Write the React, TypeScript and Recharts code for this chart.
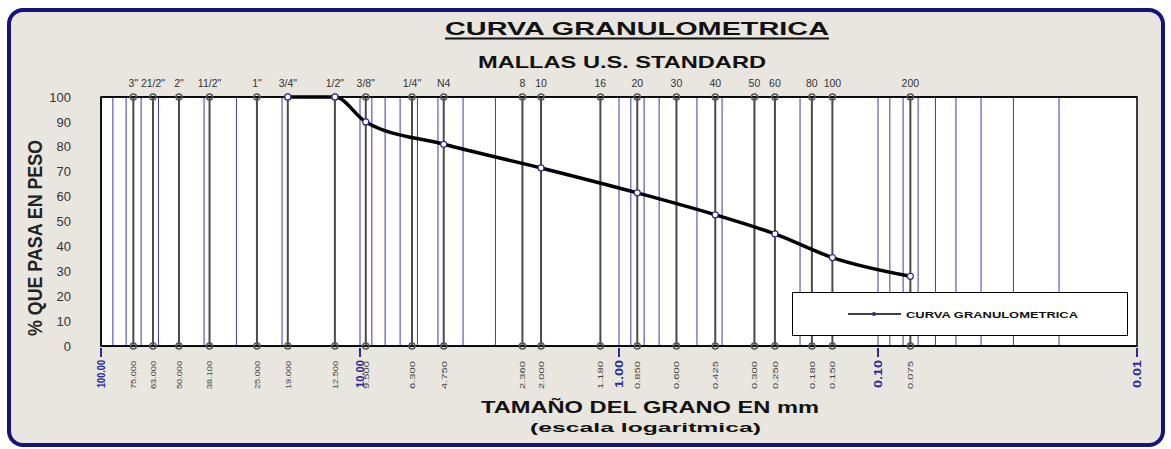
import { ComposedChart, Line, Scatter, XAxis, YAxis, CartesianGrid, ReferenceLine, ReferenceArea } from 'recharts';

// tamices (mm) y su denominacion ASTM
const sieveSizes = [75, 63, 50, 38.1, 25, 19, 12.5, 9.5, 6.3, 4.75, 2.36, 2.0, 1.18, 0.85, 0.6, 0.425, 0.3, 0.25, 0.18, 0.15, 0.075];
const sieveNames = ['3"', '21/2"', '2"', '11/2"', '1"', '3/4"', '1/2"', '3/8"', '1/4"', 'N4', '8', '10', '16', '20', '30', '40', '50', '60', '80', '100', '200'];
const sieveLabels = ['75.000', '63.000', '50.000', '38.100', '25.000', '19.000', '12.500', '9.500', '6.300', '4.750', '2.360', '2.000', '1.180', '0.850', '0.600', '0.425', '0.300', '0.250', '0.180', '0.150', '0.075'];

// curva granulometrica: abertura (mm) y % que pasa
const curveSizes = [19, 12.5, 9.5, 4.75, 2.0, 0.85, 0.425, 0.25, 0.15, 0.075];
const curvePassing = [100, 100, 90, 81, 71.5, 61.5, 52.7, 45, 35.5, 28];

const decades = [100, 10, 1, 0.1, 0.01];
const decadeLabels = ['100.00', '10.00', '1.00', '0.10', '0.01'];
const minorGrid = [90, 80, 70, 60, 50, 40, 30, 20, 10, 9, 8, 7, 6, 5, 4, 3, 2, 1, 0.9, 0.8, 0.7, 0.6, 0.5, 0.4, 0.3, 0.2, 0.1, 0.09, 0.08, 0.07, 0.06, 0.05, 0.04, 0.03, 0.02];
const yTicks = [0, 10, 20, 30, 40, 50, 60, 70, 80, 90, 100];

const curveData = curveSizes.map((x, i) => ({ x, y: curvePassing[i] }));
const sieveMarks = sieveSizes.flatMap((x) => [{ x, y: 100 }, { x, y: 0 }]);

const FONT = 'Arial, "Liberation Sans", sans-serif';

function BottomTick(props: any) {
  const { x, y, payload } = props;
  const v = payload.value;
  const di = decades.indexOf(v);
  if (di >= 0) {
    return (
      <g>
        <line x1={x} y1={y - 6} x2={x} y2={y + 3} stroke="#2a2a9a" strokeWidth={2} />
        <text x={x} y={y + 6} transform={`rotate(-90, ${x}, ${y + 6})`} textAnchor="end" dy="0.35em"
          fontSize={10} fontWeight="bold" fill="#2a2a9a" fontFamily={FONT}
          textLength={28} lengthAdjust="spacingAndGlyphs">{decadeLabels[di]}</text>
      </g>
    );
  }
  const si = sieveSizes.indexOf(v);
  return (
    <text x={x} y={y + 7} transform={`rotate(-90, ${x}, ${y + 7})`} textAnchor="end" dy="0.35em"
      fontSize={8} fill="#444" fontFamily={FONT} textLength={28} lengthAdjust="spacingAndGlyphs">{sieveLabels[si]}</text>
  );
}

function CurveDot(props: any) {
  const { cx, cy } = props;
  if (cx == null || cy == null) return null;
  return <circle cx={cx} cy={cy} r={3} fill="#fff" stroke="#2b2b8a" strokeWidth={1.2} />;
}

function SieveDot(props: any) {
  const { cx, cy } = props;
  return <circle cx={cx} cy={cy} r={3} fill="none" stroke="#555" strokeWidth={1.5} />;
}

export default function App() {
  return (
    <div style={{ position: 'absolute', left: 0, top: 0, width: 1171, height: 449, background: '#fff', fontFamily: FONT }}>
      <svg width={1171} height={449} style={{ position: 'absolute', left: 0, top: 0 }}>
        <rect x={9} y={10} width={1154} height={435} rx={14} fill="#e9e6df" stroke="#14147a" strokeWidth={4} />
        <text x={445} y={35} fontSize={19} fontWeight="bold" fill="#111" fontFamily={FONT}
          textLength={384} lengthAdjust="spacingAndGlyphs">CURVA GRANULOMETRICA</text>
        <line x1={445} y1={38.5} x2={829} y2={38.5} stroke="#111" strokeWidth={2} />
        <text x={478} y={68} fontSize={17} fontWeight="bold" fill="#111" fontFamily={FONT}
          textLength={288} lengthAdjust="spacingAndGlyphs">MALLAS U.S. STANDARD</text>
        <text x={481} y={413} fontSize={16} fontWeight="bold" fill="#111" fontFamily={FONT}
          textLength={338} lengthAdjust="spacingAndGlyphs">TAMAÑO DEL GRANO EN mm</text>
        <text x={530} y={432} fontSize={13} fontWeight="bold" fill="#111" fontFamily={FONT}
          textLength={231} lengthAdjust="spacingAndGlyphs">(escala logaritmica)</text>
        <text x={35} y={238} transform="rotate(-90, 35, 238)" textAnchor="middle" dy="0.35em" fontSize={21}
          fontWeight="bold" fill="#222" fontFamily={FONT} textLength={196} lengthAdjust="spacingAndGlyphs">% QUE PASA EN PESO</text>
      </svg>
      <div style={{ position: 'absolute', left: 0, top: 0 }}>
        <ComposedChart width={1171} height={449} margin={{ top: 75, right: 34, bottom: 58, left: 61 }}>
          <ReferenceArea xAxisId="bottom" x1={100} x2={0.01} y1={0} y2={100} fill="#fff" fillOpacity={1} stroke="none" />
          <CartesianGrid xAxisId="bottom" vertical={false} stroke="#000" strokeWidth={1} />
          <XAxis xAxisId="top" orientation="top" dataKey="x" type="number" scale="log" domain={[0.01, 100]} reversed
            allowDataOverflow ticks={sieveSizes} interval={0} tickLine={false} height={22} tickMargin={4}
            axisLine={{ stroke: '#000', strokeWidth: 1.5 }}
            tickFormatter={(v: number) => sieveNames[sieveSizes.indexOf(v)] ?? ''}
            tick={{ fontSize: 10.5, fill: '#333', fontFamily: FONT }} />
          <XAxis xAxisId="bottom" orientation="bottom" dataKey="x" type="number" scale="log" domain={[0.01, 100]} reversed
            allowDataOverflow ticks={[...decades, ...sieveSizes]} interval={0} tickLine={false} height={45}
            axisLine={{ stroke: '#000', strokeWidth: 1.5 }} tick={<BottomTick />} />
          <YAxis domain={[0, 100]} ticks={yTicks} interval={0} tickLine={false} width={40} tickMargin={24}
            axisLine={{ stroke: '#000', strokeWidth: 1.5 }}
            tick={{ fontSize: 13, fill: '#333', fontFamily: FONT }} />
          {minorGrid.map((v) => (
            <ReferenceLine key={'m' + v} xAxisId="bottom" x={v} stroke="#3b3bb0" strokeWidth={1} />
          ))}
          {sieveSizes.map((v) => (
            <ReferenceLine key={'s' + v} xAxisId="bottom" x={v} stroke="#4a4a4a" strokeWidth={2} />
          ))}
          <ReferenceArea xAxisId="bottom" x1={100} x2={0.01} y1={0} y2={100} fill="none" stroke="#000" strokeWidth={1.5} />
          <Scatter xAxisId="bottom" data={sieveMarks} dataKey="y" shape={<SieveDot />} isAnimationActive={false} />
          <Line xAxisId="bottom" data={curveData} dataKey="y" type="monotone" stroke="#000" strokeWidth={3.5}
            dot={<CurveDot />} activeDot={false} isAnimationActive={false} />
        </ComposedChart>
      </div>
      <div style={{ position: 'absolute', left: 792, top: 292, width: 336, height: 44, background: '#fff',
        border: '1.5px solid #000', boxSizing: 'border-box' }}>
        <svg width={336} height={44} style={{ position: 'absolute', left: 0, top: 0 }}>
          <line x1={55} y1={21} x2={108} y2={21} stroke="#000" strokeWidth={1.5} />
          <circle cx={81} cy={21} r={2} fill="#2b2b8a" />
          <text x={113} y={24.5} fontSize={9.5} fontWeight="bold" fill="#111" fontFamily={FONT}
            textLength={172} lengthAdjust="spacingAndGlyphs">CURVA GRANULOMETRICA</text>
        </svg>
      </div>
    </div>
  );
}
